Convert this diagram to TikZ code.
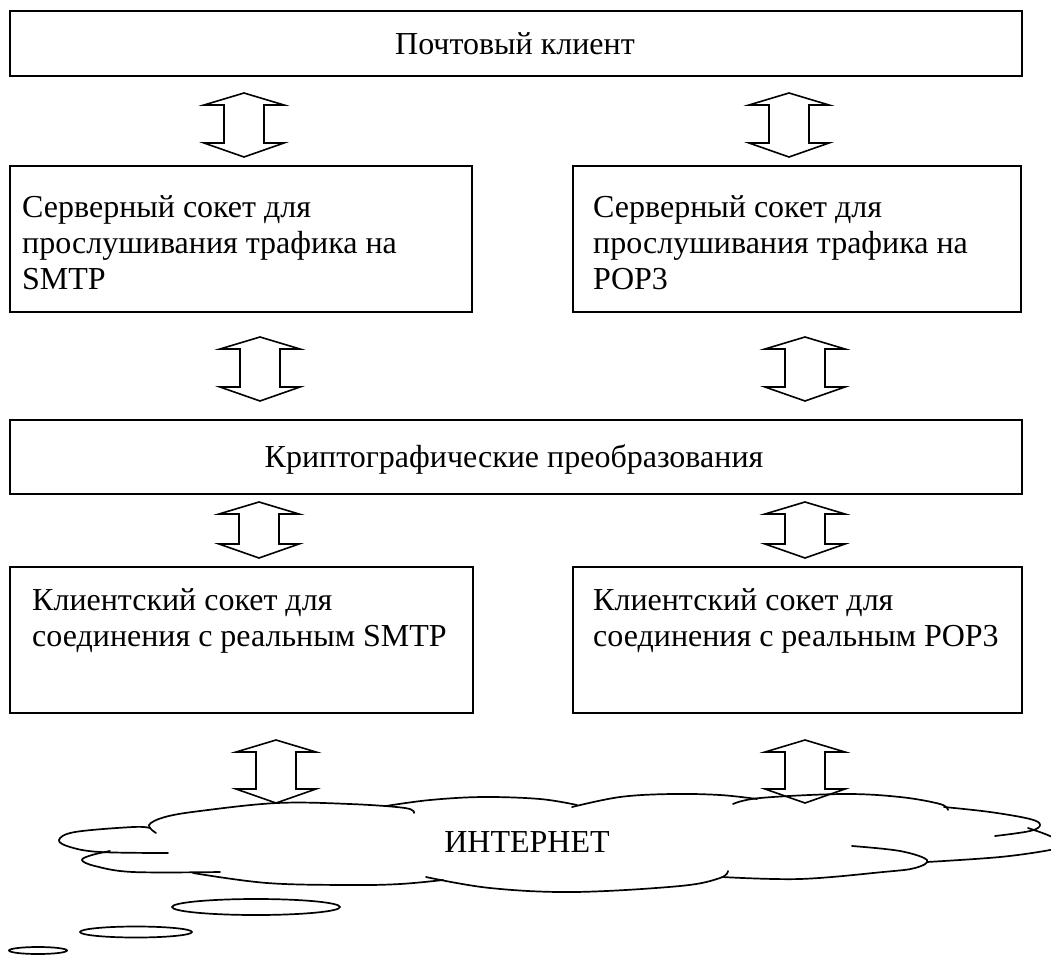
\documentclass[tikz,border=0pt]{standalone}
\usepackage{fontspec}
\setmainfont{Liberation Serif}
\tikzset{
  box/.style={draw, line width=1.8pt, inner sep=0pt, anchor=north west},
  lbl/.style={font=\fontsize{32}{36}\selectfont, inner sep=0pt},
  blk/.style={draw, line width=1.6pt, line join=miter, fill=white},
  cloudline/.style={line width=1.7pt, line cap=round}
}
\newcommand{\blockarr}[3]{%
  \draw[blk] (#1,#2) -- ({#1+40},{#2+12}) -- ({#1+20},{#2+12}) -- ({#1+20},{#3-14}) -- ({#1+40},{#3-14}) -- (#1,#3)
    -- ({#1-40},{#3-14}) -- ({#1-20},{#3-14}) -- ({#1-20},{#2+12}) -- ({#1-40},{#2+12}) -- cycle;}
\begin{document}
\begin{tikzpicture}[x=1pt, y=-1pt]
\useasboundingbox (0,0) rectangle (1051,955);
\fill[white] (0,0) rectangle (1051,955);
\clip (0,0) rectangle (1051,955);

% boxes
\node[box, minimum width=1012pt, minimum height=65pt] (client) at (9,10) {};
\node[box, minimum width=462pt, minimum height=146pt] (srvsmtp) at (9,165) {};
\node[box, minimum width=448pt, minimum height=146pt] (srvpop) at (572,165) {};
\node[box, minimum width=1012pt, minimum height=74pt] (crypto) at (9,419) {};
\node[box, minimum width=463pt, minimum height=146pt] (clismtp) at (9,566) {};
\node[box, minimum width=449pt, minimum height=146pt] (clipop) at (572,566) {};

% texts
\node[lbl, anchor=base] (clienttxt) at (515,55) {Почтовый клиент};
\node[lbl, anchor=north west, align=left] (srvsmtptxt) at (22,195) {Серверный сокет для\\прослушивания трафика на\\SMTP};
\node[lbl, anchor=north west, align=left] (srvpoptxt) at (593,195) {Серверный сокет для\\прослушивания трафика на\\POP3};
\node[lbl, anchor=base] (cryptotxt) at (514,467) {Криптографические преобразования};
\node[lbl, anchor=north west, align=left] (clismtptxt) at (32,588) {Клиентский сокет для\\соединения с реальным SMTP};
\node[lbl, anchor=north west, align=left] (clipoptxt) at (593,588) {Клиентский сокет для\\соединения с реальным POP3};

% block arrows
\blockarr{244}{93}{157}
\blockarr{789}{93}{157}
\blockarr{260}{337}{401}
\blockarr{805}{337}{401}
\blockarr{259}{502}{558}
\blockarr{805}{502}{558}
\blockarr{276}{740}{803}
\blockarr{805}{740}{803}

% cloud
\begin{scope}[cloudline]
\draw plot[smooth, tension=0.6] coordinates {(156,833) (149,825) (165,817) (200,811) (277,803) (350,804) (405,808) (414,813)};
\draw plot[smooth, tension=0.6] coordinates {(386,806) (430,800) (483,797) (540,799) (577,805)};
\draw plot[smooth, tension=0.6] coordinates {(572,807) (620,797) (671,794) (720,795) (757,799)};
\draw plot[smooth, tension=0.6] coordinates {(733,804) (760,798) (843,794) (900,797) (940,804) (948,810)};
\draw plot[smooth, tension=0.6] coordinates {(944,807) (990,812) (1030,819) (1040,825) (1030,831) (995,836)};
\draw plot[smooth, tension=0.6] coordinates {(1028,828) (1050,836) (1065,845) (1050,850) (1000,857) (927,862)};
\draw plot[smooth, tension=0.6] coordinates {(852,846) (900,851) (927,860) (915,868) (883,872) (800,879) (722,877)};
\draw plot[smooth, tension=0.6] coordinates {(728,871) (720,878) (680,886) (574,892) (490,888) (426,877)};
\draw plot[smooth, tension=0.6] coordinates {(443,880) (400,884) (350,885) (267,883) (193,873)};
\draw plot[smooth, tension=0.6] coordinates {(220,872) (133,872) (95,866) (82,860) (92,855) (110,851)};
\draw plot[smooth, tension=0.6] coordinates {(168,853) (100,852) (70,847) (59,840) (75,832) (133,827) (150,828)};
\draw (256,907) ellipse [x radius=84, y radius=8];
\draw (136,932) ellipse [x radius=56, y radius=5.5];
\draw (38,950.5) ellipse [x radius=29, y radius=3.5];
\end{scope}
\node[lbl, anchor=base] (net) at (527,852) {ИНТЕРНЕТ};
\end{tikzpicture}
\end{document}
